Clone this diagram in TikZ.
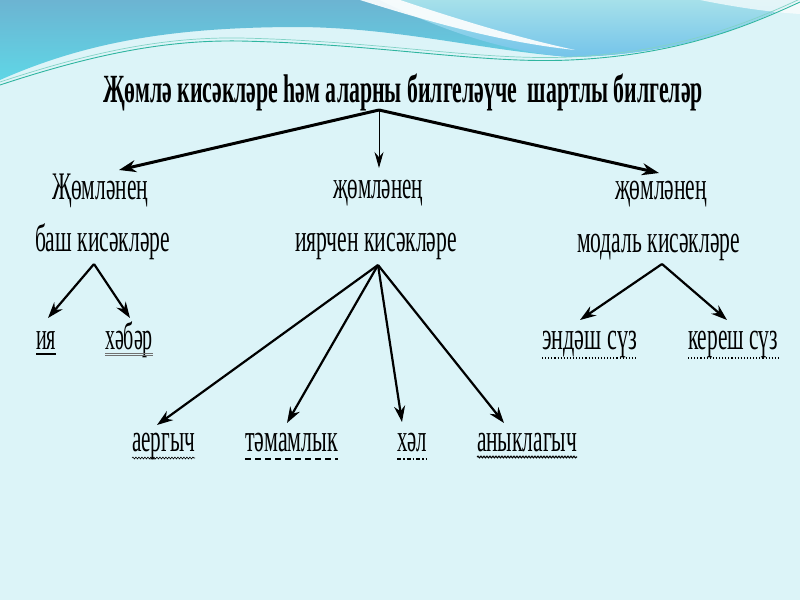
\documentclass[tikz,border=0pt]{standalone}
\usepackage{fontspec}
\setmainfont{Liberation Serif}
\usetikzlibrary{arrows.meta,calc,decorations.pathmorphing}
\newcommand{\fitw}[2]{\resizebox{#1pt}{\height}{#2}}
\definecolor{bgpale}{HTML}{DCF4F8}
\definecolor{topdark}{HTML}{6CB4D2}
\definecolor{topcyan}{HTML}{5FD6E6}
\definecolor{rightlight}{HTML}{A6E0EA}
\definecolor{rightblue}{HTML}{74C4EA}
\definecolor{tealline}{HTML}{2FB5A0}
\definecolor{ulgray}{HTML}{707070}
\begin{document}
\begin{tikzpicture}[x=1pt,y=-1pt,
  lbl/.style={anchor=base west,inner sep=0pt,outer sep=0pt,font=\fontsize{39}{39}\selectfont},
  ttl/.style={anchor=base west,inner sep=0pt,outer sep=0pt,font=\bfseries\fontsize{40}{40}\selectfont},
  arr/.style={draw=black,line width=2.2pt,-{Stealth[length=16pt,width=11pt]}},
  arrthick/.style={draw=black,line width=3pt,-{Stealth[length=17pt,width=12pt]}},
  arrthin/.style={draw=black,line width=0.9pt,-{Stealth[length=16pt,width=9pt]}},
  ul/.style={line width=1.4pt}
]
\useasboundingbox (0,0) rectangle (800,600);
% background
\fill[bgpale] (0,0) rectangle (800,600);
\shade[top color=topdark,bottom color=topcyan]
  (0,0) -- (800,0) -- (800,0) .. controls (750,25) and (680,55) .. (570,57)
  .. controls (480,50) and (400,28) .. (300,27)
  .. controls (180,27) and (90,40) .. (0,80) -- cycle;
\shade[top color=rightlight,bottom color=rightblue]
  (380,0) -- (800,0) .. controls (750,25) and (680,55) .. (570,57)
  .. controls (500,52) and (430,25) .. (380,0) -- cycle;
\fill[white,opacity=0.9] (360,0) .. controls (430,22) and (500,42) .. (575,50)
  .. controls (510,36) and (445,15) .. (400,0) -- cycle;
\fill[white,opacity=0.7] (700,0) .. controls (740,8) and (770,12) .. (800,14) -- (800,0) -- cycle;
\draw[tealline,line width=0.9pt] (0,85) .. controls (100,52) and (170,40) .. (240,41)
  .. controls (380,44) and (480,64) .. (570,60) .. controls (680,55) and (750,25) .. (800,2);
\draw[tealline!60!white,line width=0.7pt] (0,82) .. controls (100,49) and (170,37) .. (240,38)
  .. controls (380,41) and (480,61) .. (570,57) .. controls (680,52) and (750,22) .. (800,-1);

% texts
\node[ttl] (title) at (103,102) {\fitw{600}{Җөмлә кисәкләре һәм аларны билгеләүче\ \ шартлы билгеләр}};
\node[lbl] (lh1) at (52,199) {\fitw{96}{Җөмләнең}};
\node[lbl] (lh2) at (35,251) {\fitw{135}{баш кисәкләре}};
\node[lbl] (ch1) at (333,198) {\fitw{90}{җөмләнең}};
\node[lbl] (ch2) at (295,251) {\fitw{162}{иярчен кисәкләре}};
\node[lbl] (rh1) at (615,199) {\fitw{92}{җөмләнең}};
\node[lbl] (rh2) at (577,252) {\fitw{163}{модаль кисәкләре}};
\node[lbl] (ia) at (36,349) {\fitw{20}{ия}};
\node[lbl] (hab) at (105,349) {\fitw{48}{хәбәр}};
\node[lbl] (end) at (542,349) {\fitw{95}{эндәш сүз}};
\node[lbl] (ker) at (688,349) {\fitw{90}{кереш сүз}};
\node[lbl] (aer) at (132,451) {\fitw{63}{аергыч}};
\node[lbl] (tam) at (245,451) {\fitw{93}{тәмамлык}};
\node[lbl] (hal) at (397,451) {\fitw{30}{хәл}};
\node[lbl] (any) at (477,451) {\fitw{100}{аныклагыч}};

% underlines
\draw[ul] ($(ia.base west)+(0,5)$) -- ($(ia.base east)+(0,5)$);
\draw[ulgray,line width=0.8pt] ($(hab.base west)+(0,4)$) -- ($(hab.base east)+(0,4)$);
\draw[ulgray,line width=0.8pt] ($(hab.base west)+(0,6.5)$) -- ($(hab.base east)+(0,6.5)$);
\draw[line width=1.1pt,dotted] ($(end.base west)+(0,9)$) -- ($(end.base east)+(0,9)$);
\draw[line width=1.1pt,dotted] ($(ker.base west)+(0,9)$) -- ($(ker.base east)+(0,9)$);
\draw[line width=0.6pt,decorate,decoration={snake,amplitude=0.9pt,segment length=3pt}] ($(aer.base west)+(0,7)$) -- ($(aer.base east)+(0,7)$);
\draw[line width=1.3pt,dash pattern=on 6pt off 4pt] ($(tam.base west)+(0,8)$) -- ($(tam.base east)+(0,8)$);
\draw[line width=1.1pt,dash pattern=on 4pt off 2pt on 1.5pt off 2pt] ($(hal.base west)+(0,8)$) -- ($(hal.base east)+(0,8)$);
\draw[line width=1.1pt,decorate,decoration={snake,amplitude=0.8pt,segment length=3pt}] ($(any.base west)+(0,6)$) -- ($(any.base east)+(0,6)$);

% apex and tip coordinates
\coordinate (tA) at (379,110);
\coordinate (tL) at (119,170);
\coordinate (tC) at (379,168);
\coordinate (tR) at (659,173);
\coordinate (lA) at (94,264);
\coordinate (lL) at (48,318);
\coordinate (lR) at (130,318);
\coordinate (cA) at (378,265);
\coordinate (c1) at (157,425);
\coordinate (c2) at (287,423);
\coordinate (c3) at (402,422);
\coordinate (c4) at (504,423);
\coordinate (rA) at (662,264);
\coordinate (rL) at (580,320);
\coordinate (rR) at (727,320);

% connectors
\draw[arrthick] (tA) -- (tL);
\draw[arrthick] (tA) -- (tR);
\draw[arrthin] (tA) -- (tC);
\draw[arr] (lA) -- (lL);
\draw[arr] (lA) -- (lR);
\draw[arr] (cA) -- (c1);
\draw[arr] (cA) -- (c2);
\draw[arr] (cA) -- (c3);
\draw[arr] (cA) -- (c4);
\draw[arr] (rA) -- (rL);
\draw[arr] (rA) -- (rR);
\end{tikzpicture}
\end{document}
